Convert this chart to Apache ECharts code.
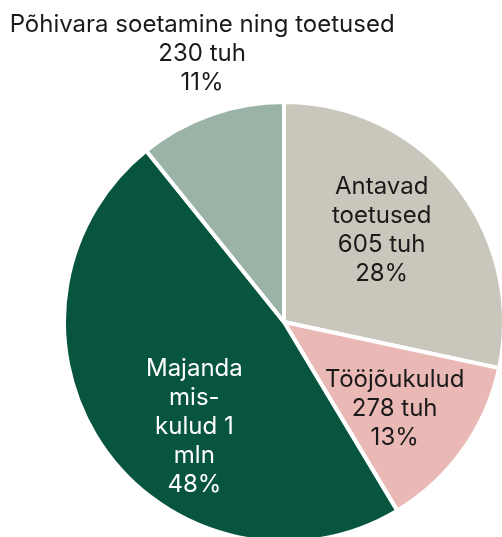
<!DOCTYPE html>
<html>
<head>
<meta charset="utf-8">
<script src="https://cdn.jsdelivr.net/npm/echarts@6/dist/echarts.min.js"></script>
<style>
  html, body { margin: 0; padding: 0; background: #fff; }
  #chart { width: 502px; height: 537px; }
</style>
</head>
<body>
<div id="chart"></div>
<script>
// andmed
const names = ['Antavad toetused', 'Tööjõukulud', 'Majandamiskulud', 'Põhivara soetamine ning toetused'];
const values = [605, 278, 1020, 230];
const labelTexts = [
    'Antavad\ntoetused\n605 tuh',
    'Tööjõukulud\n278 tuh',
    'Majanda\nmis-\nkulud 1\nmln',
    'Põhivara soetamine ning toetused\n230 tuh'
];
const colors = ['#c9c6bb', '#eab9b6', '#07553f', '#9bb3a7'];
const textColors = ['#1a1a1a', '#1a1a1a', '#ffffff', '#1a1a1a'];
const labelOffsets = [[-12, -3], [-4, 5], [26, 24], [-35, -135]];

const center = [284, 322];

let myChart = echarts.init(document.getElementById('chart'));

const pieData = names.map((n, i) => ({
    name: n,
    value: values[i],
    itemStyle: { color: colors[i] }
}));

// nähtamatu suurem ring ainult siltide jaoks
const labelData = names.map((n, i) => ({
    name: n,
    value: values[i],
    label: {
        color: textColors[i],
        offset: labelOffsets[i],
        formatter: p => labelTexts[i] + '\n' + p.percent + '%'
    }
}));

myChart.setOption({
    animation: false,
    series: [
        {
            type: 'pie',
            center: center,
            radius: 220,
            startAngle: 90,
            clockwise: true,
            silent: true,
            label: { show: false },
            labelLine: { show: false },
            itemStyle: { borderColor: '#fff', borderWidth: 4 },
            data: pieData
        },
        {
            type: 'pie',
            center: center,
            radius: 276,
            startAngle: 90,
            clockwise: true,
            silent: true,
            percentPrecision: 0,
            z: 5,
            itemStyle: { color: 'rgba(0,0,0,0)', borderWidth: 0 },
            labelLine: { show: false },
            label: {
                show: true,
                position: 'inside',
                fontFamily: 'Inter',
                fontSize: 24,
                lineHeight: 29,
                align: 'center'
            },
            data: labelData
        }
    ]
});
</script>
</body>
</html>
